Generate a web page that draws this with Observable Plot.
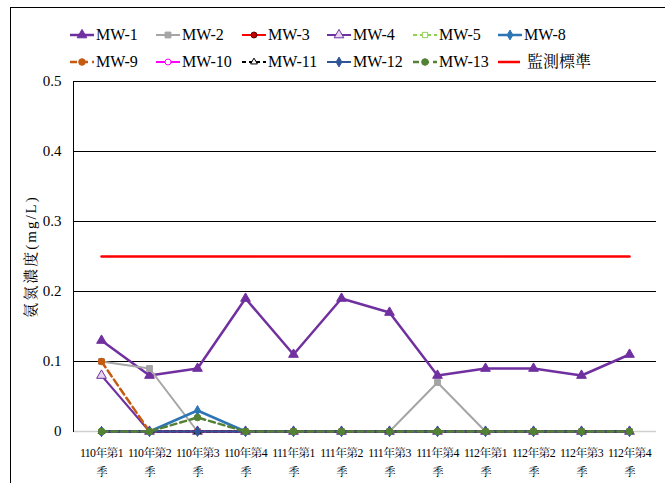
<!DOCTYPE html>
<html><head><meta charset="utf-8">
<script src="https://cdn.jsdelivr.net/npm/d3@7"></script>
<script src="https://cdn.jsdelivr.net/npm/@observablehq/plot@0.6"></script>
<style>
body{margin:0;background:#fff;}
#wrap{position:relative;width:665px;height:483px;overflow:hidden;font-family:"Liberation Serif","Noto Serif CJK TC",serif;}
#border{position:absolute;left:10px;top:7px;width:700px;height:600px;border-left:1px solid #000;border-top:1px solid #000;}
#chart{position:absolute;left:0;top:0;}
.item{position:absolute;display:flex;align-items:center;font-size:16px;line-height:20px;height:20px;color:#000;white-space:nowrap;}
.item svg{margin-right:1px;}
</style></head><body>
<div id="wrap"><div id="border"></div><div id="chart"></div><div id="legend"></div></div>
<script>
// ---- data ----
const quarters = ["110年第1季","110年第2季","110年第3季","110年第4季","111年第1季","111年第2季","111年第3季","111年第4季","112年第1季","112年第2季","112年第3季","112年第4季"];
const mw1  = [0.13,0.08,0.09,0.19,0.11,0.19,0.17,0.08,0.09,0.09,0.08,0.11];
const mw2  = [0.10,0.09,0,0,0,0,0,0.07,0,0,0,0];
const mw3  = [0,0,0,0,0,0,0,0,0,0,0,0];
const mw4  = [0.08,0,0,0,0,0,0,0,0,0,0,0];
const mw5  = [0,0,0,0,0,0,0,0,0,0,0,0];
const mw8  = [0,0,0.03,0,0,0,0,0,0,0,0,0];
const mw9  = [0.10,0,0,0,0,0,0,0,0,0,0,0];
const mw10 = [0,0,0,0,0,0,0,0,0,0,0,0];
const mw11 = [0,0,0,0,0,0,0,0,0,0,0,0];
const mw12 = [0,0,0,0,0,0,0,0,0,0,0,0];
const mw13 = [0,0,0.02,0,0,0,0,0,0,0,0,0];
const standard = [0.25,0.25,0.25,0.25,0.25,0.25,0.25,0.25,0.25,0.25,0.25,0.25];
const seriesNames = ["MW-1","MW-2","MW-3","MW-4","MW-5","MW-8","MW-9","MW-10","MW-11","MW-12","MW-13","監測標準"];
const yTicks = [0,0.1,0.2,0.3,0.4,0.5];
const yTickLabels = ["0","0.1","0.2","0.3","0.4","0.5"];
const yLabel = "氨氮濃度(mg/L)";

// ---- styles ----
const styles = {
  "MW-1":  {values: mw1,  color:"#7030A0", width:2.5, dash:null,  symbol:"triangle", fill:"#7030A0", mstroke:"#7030A0", r:3.6},
  "MW-2":  {values: mw2,  color:"#A5A5A5", width:2,   dash:null,  symbol:"square",   fill:"#A5A5A5", mstroke:"#A5A5A5", r:3.3},
  "MW-3":  {values: mw3,  color:"#FF0000", width:2,   dash:null,  symbol:"circle",   fill:"#C00000", mstroke:"#600000", r:3},
  "MW-4":  {values: mw4,  color:"#7030A0", width:2,   dash:null,  symbol:"triangle", fill:"#E6D6F2", mstroke:"#7030A0", r:3.6},
  "MW-5":  {values: mw5,  color:"#92D050", width:2,   dash:"4,3", symbol:"square",   fill:"#FFFFFF", mstroke:"#92D050", r:3},
  "MW-8":  {values: mw8,  color:"#2E75B6", width:2.5, dash:null,  symbol:"diamond",  fill:"#2E75B6", mstroke:"#2E75B6", r:3},
  "MW-9":  {values: mw9,  color:"#C55A11", width:2.5, dash:"7,4", symbol:"circle",   fill:"#C55A11", mstroke:"#C55A11", r:3.3},
  "MW-10": {values: mw10, color:"#FF00FF", width:2,   dash:null,  symbol:"circle",   fill:"#FFFFFF", mstroke:"#FF00FF", r:3},
  "MW-11": {values: mw11, color:"#000000", width:2,   dash:"4,3", symbol:"triangle", fill:"#FFFFFF", mstroke:"#000000", r:2.5},
  "MW-12": {values: mw12, color:"#2F5597", width:2,   dash:null,  symbol:"diamond",  fill:"#2F5597", mstroke:"#2F5597", r:3},
  "MW-13": {values: mw13, color:"#548235", width:2.5, dash:"6,4", symbol:"circle",   fill:"#548235", mstroke:"#548235", r:3.3},
  "監測標準": {values: standard, color:"#FF0000", width:2.5, dash:null, symbol:null}
};

const rows = [];
for (const name of seriesNames) {
  styles[name].values.forEach((v, i) => rows.push({series: name, quarter: quarters[i], value: v}));
}

const font = '"Liberation Serif","Noto Serif CJK TC",serif';
const marks = [
  Plot.gridY(yTicks.slice(1), {stroke:"#000", strokeOpacity:1, strokeWidth:1}),
  Plot.ruleY([0], {stroke:"#D0D0D0", strokeWidth:1.5}),
  Plot.axisY({ticks: yTicks, tickSize:0, tickPadding:12, fontSize:15, tickFormat: d => yTickLabels[yTicks.indexOf(d)] ?? d,
              label: yLabel, labelAnchor:"center", labelOffset:48}),
  Plot.axisX({tickSize:0, tickPadding:12, fontSize:11.8, label:null, lineHeight:1.6,
              tickFormat: d => d.slice(0, -1) + "\n" + d.slice(-1)})
];
for (const name of seriesNames) {
  const s = styles[name];
  const data = rows.filter(r => r.series === name);
  marks.push(Plot.line(data, {x:"quarter", y:"value", stroke:s.color, strokeWidth:s.width, strokeDasharray:s.dash ?? undefined}));
  if (s.symbol) marks.push(Plot.dot(data, {x:"quarter", y:"value", symbol:()=>s.symbol, fill:s.fill, stroke:s.mstroke, strokeWidth:1, r:s.r}));
}
marks.push(Plot.frame({anchor:"left", stroke:"#000", strokeWidth:1}));

const plot = Plot.plot({
  width:665, height:483,
  marginLeft:73, marginRight:9, marginTop:81, marginBottom:52,
  style:{background:"transparent", fontFamily:font, color:"#000"},
  x:{type:"point", domain:quarters, padding:0.5},
  y:{domain:[0,0.5]},
  symbol:{type:"identity"},
  marks
});
document.getElementById("chart").appendChild(plot);
// y axis label: no arrow, spaced characters; x tick labels slightly condensed
plot.querySelectorAll("text").forEach(t => {
  if (t.textContent.includes(yLabel)) {
    t.textContent = yLabel;
    t.setAttribute("letter-spacing", "2");
    t.setAttribute("font-size", "15");
  } else if (/年第/.test(t.textContent)) {
    t.setAttribute("letter-spacing", "-0.6");
  }
});

// ---- legend ----
const legendPos = [[70,35],[156,35],[242,35],[327,35],[413,35],[498,35],[70,62],[156,62],[242,62],[327,62],[413,62],[498,62]];
const symMap = {triangle:d3.symbolTriangle, square:d3.symbolSquare, circle:d3.symbolCircle, diamond:d3.symbolDiamond};
const legend = document.getElementById("legend");
seriesNames.forEach((name, i) => {
  const s = styles[name];
  const div = document.createElement("div");
  div.className = "item";
  div.style.left = legendPos[i][0] + "px";
  div.style.top = (legendPos[i][1] - 10) + "px";
  const w = name === "監測標準" ? 22 : 24;
  let svg = `<svg width="${w}" height="14"><line x1="0" x2="${w}" y1="7" y2="7" stroke="${s.color}" stroke-width="${s.width}" ${s.dash ? `stroke-dasharray="${s.dash}"` : ""}/>`;
  if (s.symbol) {
    const p = d3.symbol(symMap[s.symbol], Math.PI * s.r * s.r)();
    svg += `<path d="${p}" transform="translate(${w/2},7)" fill="${s.fill}" stroke="${s.mstroke}" stroke-width="1"/>`;
  }
  svg += `</svg>`;
  div.innerHTML = svg + `<span style="margin-left:${name==="監測標準"?6:1}px">${name}</span>`;
  legend.appendChild(div);
});
</script>
</body></html>
